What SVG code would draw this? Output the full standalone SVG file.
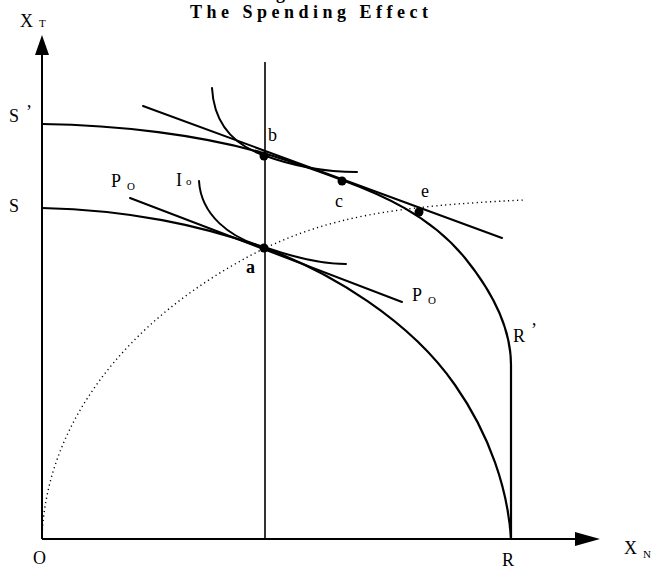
<svg xmlns="http://www.w3.org/2000/svg" width="653" height="571" viewBox="0 0 653 571">
<style>
.lbl{font-family:"Liberation Serif","Times New Roman",serif;font-size:18px;fill:#000}
.sub{font-family:"Liberation Serif","Times New Roman",serif;font-size:11px;fill:#000}
.curve{fill:none;stroke:#000;stroke-width:2.2;stroke-linecap:round}
.line{fill:none;stroke:#000;stroke-width:2;stroke-linecap:round}
.axis{fill:none;stroke:#000;stroke-width:2}
.dot{fill:#000}
</style>
<rect width="653" height="571" fill="#fff"/>
<text class="lbl" x="276" y="-1" font-weight="bold">g</text>
<text class="lbl" x="190" y="18" font-size="16" font-weight="bold" textLength="238" lengthAdjust="spacing">The Spending Effect</text>
<g id="axes">
<path class="axis" d="M42,539 L42,54"/>
<polygon points="42,35 35,55 49,55"/>
<path class="axis" d="M42,539 L577,539"/>
<polygon points="600,539 575,532 575,546"/>
<path d="M265,62 L265,539" fill="none" stroke="#000" stroke-width="1.6"/>
</g>
<g id="connectors">
<path id="icc" d="M42,539 C45,430 120,320 265,248 C330,218 390,206 525,200" fill="none" stroke="#000" stroke-width="1.4" stroke-dasharray="1.2 3.3"/>
<path id="ppf-upper" class="curve" d="M42,124 C120,125 200,135 263,153 C290,161 318,171 342,180 C380,194 430,215 465,258 C495,295 511,330 511,365 L511,539"/>
<path id="ppf-lower" class="curve" d="M42,208 C130,210 200,225 265,248 C330,272 410,320 455,385 C490,435 508,490 511,539"/>
<path id="price-upper" class="line" d="M143,106 L502,238"/>
<path id="price-lower" class="line" d="M130,198 L402,302"/>
<path id="ic-upper" class="line" d="M212,88 C214,125 235,145 263,155 C290,165 320,172 357,172"/>
<path id="ic-lower" class="line" d="M199,181 C201,215 230,238 264,247 C290,256 318,264 346,264"/>
</g>
<g id="point-a"><circle class="dot" cx="264" cy="248" r="4.5"/><text class="lbl" x="246" y="273" font-weight="bold">a</text></g>
<g id="point-b"><circle class="dot" cx="264" cy="156" r="4.5"/><text class="lbl" x="268" y="141">b</text></g>
<g id="point-c"><circle class="dot" cx="342" cy="181" r="4.5"/><text class="lbl" x="335" y="207">c</text></g>
<g id="point-e"><circle class="dot" cx="419" cy="212" r="4.5"/><text class="lbl" x="421" y="197">e</text></g>
<g id="labels">
<text class="lbl" x="20" y="27">X</text><text class="sub" x="39" y="27" font-size="9">T</text>
<text class="lbl" x="624" y="554">X</text><text class="sub" x="643" y="558" font-size="9">N</text>
<text class="lbl" x="33" y="564">O</text>
<text class="lbl" x="502" y="566">R</text>
<text class="lbl" x="9" y="122">S</text><text class="lbl" x="26" y="118" font-size="14">’</text>
<text class="lbl" x="9" y="212">S</text>
<text class="lbl" x="513" y="342">R</text><text class="lbl" x="531" y="336" font-size="14">’</text>
<text class="lbl" x="111" y="187">P</text><text class="sub" x="127" y="190">O</text>
<text class="lbl" x="176" y="186">I</text><text class="sub" x="186" y="185" font-size="9">o</text>
<text class="lbl" x="412" y="301">P</text><text class="sub" x="428" y="304">O</text>
</g>
</svg>
